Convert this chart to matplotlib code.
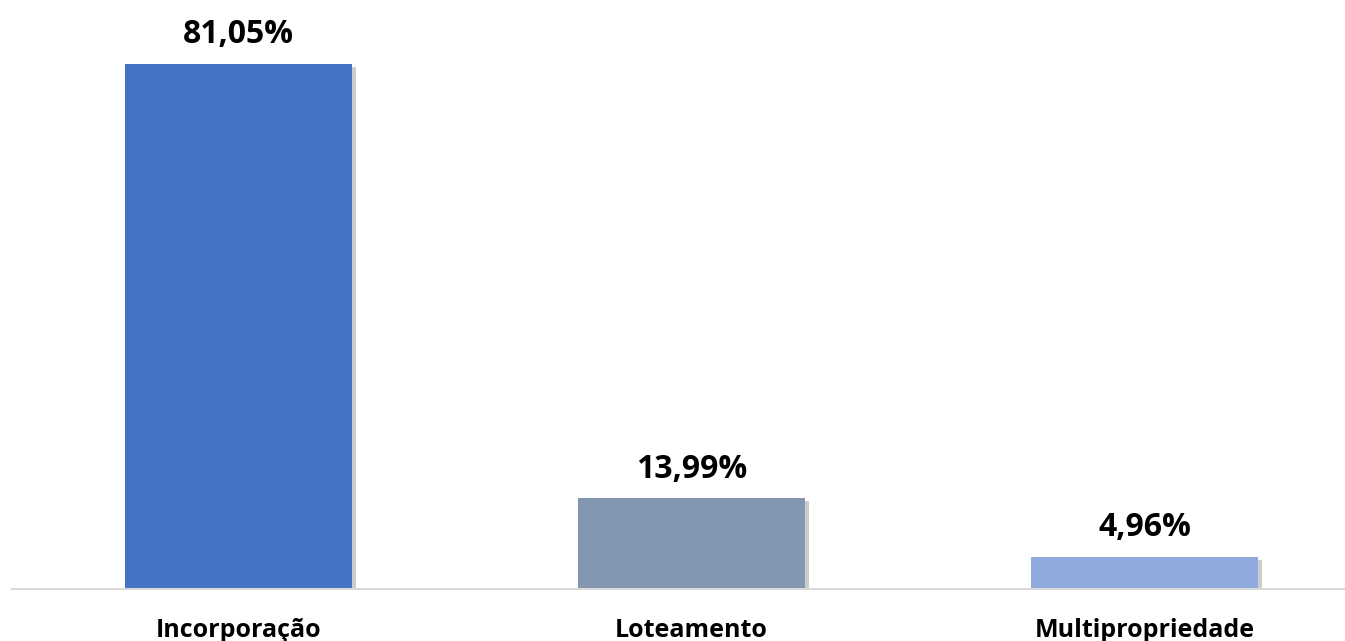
import matplotlib

matplotlib.use("Agg")
import matplotlib.pyplot as plt
import matplotlib.patheffects as pe

categories = ["Incorporação", "Loteamento", "Multipropriedade"]
shares = [81.05, 13.99, 4.96]
value_labels = ["81,05%", "13,99%", "4,96%"]
bar_colors = ["#4472c4", "#8497b0", "#8faadc"]

plt.rcParams["font.family"] = ["Open Sans", "DejaVu Sans"]

fig = plt.figure(figsize=(13.45, 6.41), dpi=100)
ax = fig.add_axes([12 / 1345, 52 / 641, 1 - 12 / 1345, 583 / 641])

x = range(len(categories))
bars = ax.bar(x, shares, width=0.5, color=bar_colors, zorder=2)
for bar in bars:
    bar.set_path_effects([
        pe.SimplePatchShadow(offset=(3, -2), shadow_rgbFace="#000000", alpha=0.2),
        pe.Normal(),
    ])

for xi, val, label in zip(x, shares, value_labels):
    ax.annotate(label, (xi, val), xytext=(0, 9), textcoords="offset points",
                ha="center", va="bottom", fontsize=23, fontweight="bold", color="#000000")

ax.set_xlim(-0.5, (1345 - 238.5) / 453)
ax.set_ylim(0, 90)
ax.set_xticks(list(x))
ax.set_xticklabels(categories, fontsize=18, fontweight="bold")
ax.tick_params(axis="x", length=0, pad=21)
ax.set_yticks([])
for side in ["top", "right", "left"]:
    ax.spines[side].set_visible(False)
ax.spines["bottom"].set_color("#d9d9d9")
ax.spines["bottom"].set_linewidth(1.5)

fig.savefig("out.png", dpi=100)
